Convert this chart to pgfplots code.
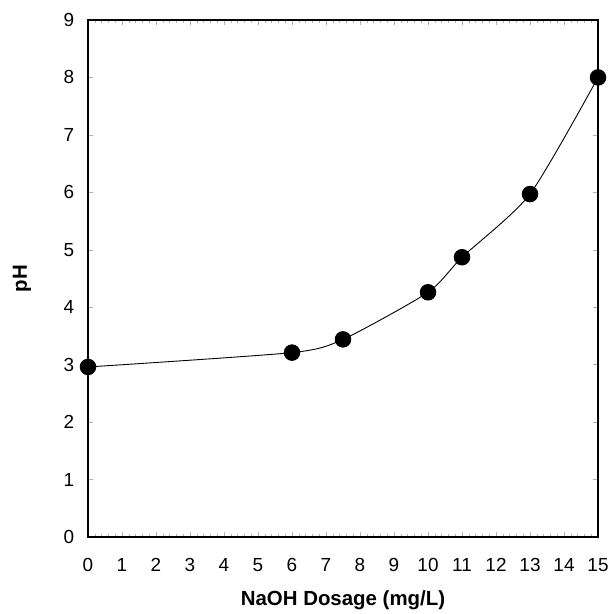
\documentclass[border=0pt]{standalone}
\usepackage{pgfplots}
\pgfplotsset{compat=1.18}
\usepackage{fontspec}
\setmainfont{Liberation Sans}
\begin{document}
\begin{tikzpicture}[x=1bp,y=1bp]
\begin{axis}[
  name=ax,
  scale only axis,
  width=510bp, height=517bp,
  xmin=0, xmax=15, ymin=0, ymax=9,
  xtick={0,1,...,15}, ytick={0,1,...,9},
  minor x tick num=4,
  tick align=inside,
  major tick length=5bp, minor tick length=3bp,
  tick style={gray!60, line width=0.5pt},
  axis line style={line width=2.2pt, black},
  /pgf/number format/assume math mode=true,
  xticklabel style={anchor=center, yshift=-28bp, font=\fontsize{19}{21}\selectfont},
  yticklabel style={anchor=center, xshift=-19bp, font=\fontsize{19}{21}\selectfont},
  xlabel={\textbf{NaOH Dosage (mg/L)}},
  ylabel={\textbf{pH}},
  every axis x label/.style={at={(axis description cs:0.5,0)}, anchor=center, yshift=-63bp, font=\fontsize{20.5}{23}\selectfont},
  every axis y label/.style={at={(axis description cs:0,0.5)}, xshift=-66bp, anchor=center, rotate=90, font=\fontsize{20.5}{23}\selectfont},
  clip=false,
]
\addplot[black, line width=0.9pt, smooth, tension=0.4, mark=*, mark size=7.8bp, mark options={fill=black}]
coordinates {(0,2.96) (6,3.21) (7.5,3.44) (10,4.26) (11,4.87) (13,5.97) (15,8.0)};
\end{axis}
\path (ax.south west) ++(-88bp,-77bp);
\path (ax.north east) ++(12bp,20bp);
\end{tikzpicture}
\end{document}
